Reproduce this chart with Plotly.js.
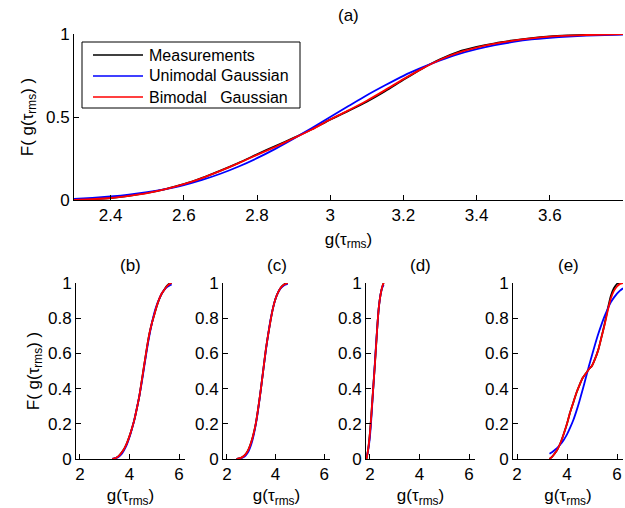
<!DOCTYPE html>
<html>
<head>
<meta charset="utf-8">
<script src="https://cdn.plot.ly/plotly-3.0.1.min.js"></script>
<style>html,body{margin:0;padding:0;background:#fff;}#chart{width:625px;height:508px;}</style>
</head>
<body>
<div id="chart"></div>
<script>
// ---------- Panel (a) ----------
const aX = [2.30,2.35,2.40,2.45,2.50,2.55,2.60,2.65,2.70,2.75,2.80,2.85,2.90,2.95,3.00,3.05,3.10,3.15,3.20,3.25,3.30,3.35,3.40,3.45,3.50,3.55,3.60,3.65,3.70,3.75,3.80];
const aMeas = [0.000,0.005,0.012,0.025,0.043,0.066,0.095,0.133,0.177,0.224,0.275,0.325,0.374,0.426,0.484,0.537,0.592,0.655,0.724,0.790,0.848,0.893,0.922,0.944,0.961,0.975,0.985,0.991,0.995,0.998,1.000];
const aUni = [0.006,0.013,0.021,0.032,0.047,0.066,0.090,0.121,0.158,0.202,0.252,0.308,0.369,0.434,0.500,0.566,0.631,0.691,0.748,0.797,0.841,0.879,0.909,0.933,0.952,0.967,0.977,0.985,0.990,0.994,0.996];
const aBi = [0.000,0.005,0.012,0.025,0.042,0.065,0.095,0.132,0.175,0.222,0.272,0.320,0.372,0.425,0.485,0.540,0.598,0.662,0.728,0.790,0.845,0.888,0.918,0.942,0.960,0.974,0.984,0.990,0.994,0.997,0.999];

// ---------- Panel (b) ----------
const bX = [3.30,3.40,3.50,3.60,3.70,3.80,3.90,4.00,4.10,4.20,4.30,4.40,4.50,4.60,4.70,4.80,4.90,5.00,5.10,5.20,5.30,5.40,5.50,5.60,5.70];
const bMeas = [0.000,0.004,0.010,0.022,0.040,0.062,0.092,0.130,0.175,0.225,0.290,0.360,0.450,0.540,0.630,0.710,0.770,0.820,0.868,0.908,0.938,0.962,0.982,0.995,1.000];
const bUni = [0.002,0.004,0.008,0.017,0.032,0.055,0.085,0.125,0.172,0.226,0.290,0.360,0.440,0.530,0.620,0.700,0.770,0.830,0.875,0.910,0.940,0.960,0.975,0.985,0.992];
const bBi = [0.000,0.004,0.010,0.022,0.040,0.062,0.092,0.130,0.175,0.225,0.290,0.360,0.450,0.540,0.630,0.710,0.770,0.820,0.870,0.910,0.940,0.960,0.980,0.993,1.000];

// ---------- Panel (c) ----------
const cX = [2.40,2.50,2.60,2.70,2.80,2.90,3.00,3.10,3.20,3.30,3.40,3.50,3.60,3.70,3.80,3.90,4.00,4.10,4.20,4.30,4.40,4.50];
const cMeas = [0.000,0.003,0.008,0.017,0.033,0.058,0.095,0.145,0.210,0.300,0.400,0.510,0.620,0.710,0.790,0.860,0.910,0.945,0.970,0.986,0.996,1.000];
const cUni = [0.001,0.002,0.005,0.011,0.024,0.046,0.082,0.135,0.205,0.295,0.400,0.510,0.615,0.710,0.795,0.860,0.910,0.945,0.968,0.982,0.990,0.995];
const cBi = [0.000,0.003,0.008,0.017,0.033,0.058,0.095,0.145,0.210,0.300,0.400,0.510,0.620,0.710,0.790,0.860,0.910,0.945,0.970,0.985,0.994,1.000];

// ---------- Panel (d) ----------
const dX = [1.86,1.90,1.95,2.00,2.05,2.10,2.15,2.20,2.25,2.30,2.35,2.40,2.45,2.50,2.55];
const dMeas = [0.000,0.030,0.080,0.150,0.240,0.340,0.440,0.540,0.650,0.760,0.850,0.910,0.950,0.980,1.000];
const dUni = [0.010,0.030,0.070,0.130,0.220,0.330,0.440,0.550,0.660,0.760,0.850,0.910,0.950,0.975,0.990];
const dBi = [0.000,0.030,0.080,0.150,0.240,0.340,0.440,0.540,0.650,0.760,0.850,0.910,0.950,0.980,1.000];

// ---------- Panel (e) ----------
const eX = [3.30,3.40,3.50,3.60,3.75,3.875,4.00,4.125,4.25,4.375,4.50,4.625,4.75,4.875,5.00,5.125,5.25,5.375,5.50,5.625,5.75,5.875,6.00,6.12,6.24];
const eMeas = [0.000,0.012,0.030,0.050,0.095,0.145,0.200,0.265,0.320,0.375,0.420,0.460,0.485,0.510,0.530,0.570,0.620,0.690,0.765,0.850,0.925,0.970,0.995,1.000,1.000];
const eUni = [0.030,0.038,0.050,0.062,0.085,0.110,0.140,0.178,0.220,0.272,0.330,0.393,0.460,0.527,0.590,0.652,0.710,0.762,0.810,0.852,0.890,0.917,0.940,0.957,0.970];
const eBi = [0.000,0.012,0.030,0.050,0.095,0.145,0.200,0.265,0.320,0.375,0.420,0.460,0.485,0.510,0.530,0.570,0.620,0.690,0.760,0.840,0.910,0.955,0.980,0.995,1.000];

const seriesNames = ['Measurements','Unimodal Gaussian','Bimodal\u00a0\u00a0\u00a0Gaussian'];
const seriesColors = ['#000000','#0000ff','#ff0000'];
const panelTitles = ['(a)','(b)','(c)','(d)','(e)'];
const aXTicks = [2.4,2.6,2.8,3.0,3.2,3.4,3.6];
const aYTicks = [0,0.5,1];
const smallXTicks = [2,4,6];
const smallYTicks = [0,0.2,0.4,0.6,0.8,1];
const xTitle = 'g(τ<sub>rms</sub>)';
const yTitle = 'F( g(τ<sub>rms</sub>) )';

const panels = [
  {x:aX, ys:[aMeas,aUni,aBi]},
  {x:bX, ys:[bMeas,bUni,bBi]},
  {x:cX, ys:[cMeas,cUni,cBi]},
  {x:dX, ys:[dMeas,dUni,dBi]},
  {x:eX, ys:[eMeas,eUni,eBi]}
];

const W = 625, H = 508;
const FONT = 'Arial, "Liberation Sans", Helvetica, sans-serif';
const FS = 17;
// pixel boxes [left,right,top,bottom]
const boxes = [
  [74,623,34,200],
  [76,185,283,459],
  [223,330,283,459],
  [366,475,283,459],
  [513,623,283,459]
];
// legend box in pixels [left,right,top,bottom], row height
const legBox = [82, 300, 42, 108];
const legRow = 21;

const traces = [];
panels.forEach((p, i) => {
  const xa = i === 0 ? 'x' : 'x' + (i + 1);
  const ya = i === 0 ? 'y' : 'y' + (i + 1);
  p.ys.forEach((yv, k) => {
    traces.push({
      x: p.x, y: yv, type: 'scatter', mode: 'lines',
      line: {color: seriesColors[k], width: 1.8, shape: 'spline', smoothing: 0.6},
      name: seriesNames[k], showlegend: false, xaxis: xa, yaxis: ya,
      hoverinfo: 'skip'
    });
  });
});

const px = v => v / W;
const py = v => 1 - v / H;

const layout = {
  width: W, height: H,
  margin: {l:0, r:0, t:0, b:0},
  paper_bgcolor: '#fff', plot_bgcolor: '#fff',
  font: {family: FONT, size: FS, color: '#000'},
  showlegend: false,
  annotations: [],
  shapes: [{
    type: 'rect', xref: 'paper', yref: 'paper', layer: 'above',
    x0: px(legBox[0]), x1: px(legBox[1]), y0: py(legBox[3]), y1: py(legBox[2]),
    line: {color: '#000', width: 1}, fillcolor: '#fff'
  }]
};

seriesNames.forEach((nm, k) => {
  const yc = legBox[2] + 13 + k * legRow;
  layout.shapes.push({
    type: 'line', xref: 'paper', yref: 'paper', layer: 'above',
    x0: px(93), x1: px(143), y0: py(yc), y1: py(yc),
    line: {color: seriesColors[k], width: 1.3}
  });
  layout.annotations.push({
    text: nm, xref: 'paper', yref: 'paper', x: px(147), y: py(yc),
    xanchor: 'left', yanchor: 'middle', showarrow: false,
    font: {family: FONT, size: 16, color: '#000'}
  });
});

boxes.forEach((b, i) => {
  const xk = i === 0 ? 'xaxis' : 'xaxis' + (i + 1);
  const yk = i === 0 ? 'yaxis' : 'yaxis' + (i + 1);
  const yref = i === 0 ? 'y' : 'y' + (i + 1);
  const xref = i === 0 ? 'x' : 'x' + (i + 1);
  const common = {
    showline: true, linecolor: '#000', linewidth: 1,
    ticks: 'inside', ticklen: 5, tickcolor: '#000', tickwidth: 1,
    showgrid: false, zeroline: false, mirror: false, fixedrange: true,
    tickfont: {family: FONT, size: FS, color: '#000'}
  };
  layout[xk] = Object.assign({}, common, {
    domain: [b[0]/W, b[1]/W],
    anchor: yref,
    range: i === 0 ? [2.3, 3.8] : [1.84, 6.24],
    tickvals: i === 0 ? aXTicks : smallXTicks,
    ticktext: (i === 0 ? aXTicks : smallXTicks).map(v => String(v)),
    title: {text: xTitle, font: {family: FONT, size: FS, color: '#000'}, standoff: 8}
  });
  const yax = Object.assign({}, common, {
    domain: [1 - b[3]/H, 1 - b[2]/H],
    anchor: xref,
    range: [0, 1],
    tickvals: i === 0 ? aYTicks : smallYTicks,
    ticktext: (i === 0 ? aYTicks : smallYTicks).map(v => String(v))
  });
  if (i <= 1) {
    yax.title = {text: yTitle, font: {family: FONT, size: FS, color: '#000'}, standoff: i === 0 ? 8 : 4};
  }
  layout[yk] = yax;
  layout.annotations.push({
    text: panelTitles[i], xref: 'paper', yref: 'paper',
    x: (b[0] + b[1]) / 2 / W, y: 1 - (b[2] - 18) / H,
    xanchor: 'center', yanchor: 'middle', showarrow: false,
    font: {family: FONT, size: FS, color: '#000'}
  });
});

Plotly.newPlot('chart', traces, layout, {staticPlot: true, displayModeBar: false});
</script>
</body>
</html>
